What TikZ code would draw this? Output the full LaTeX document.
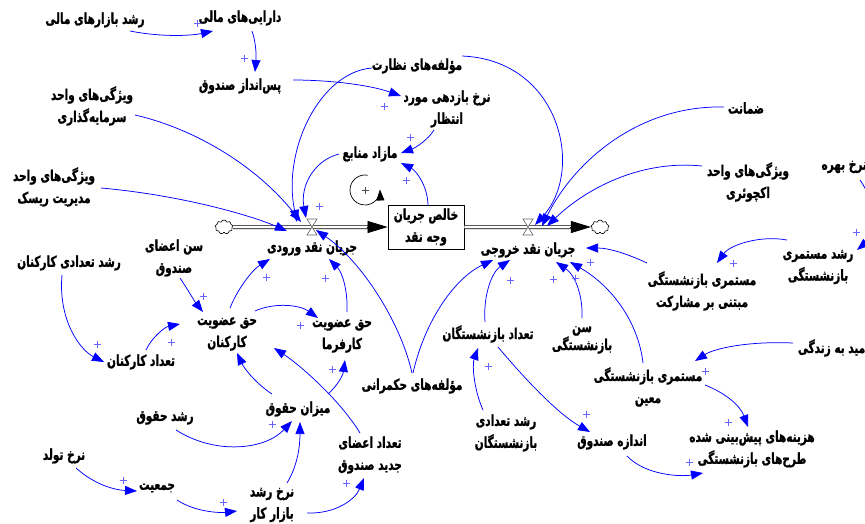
\documentclass[tikz,border=0pt]{standalone}
\usepackage{fontspec}
\usetikzlibrary{arrows.meta,shapes.symbols}
\newfontfamily\arabicfont[Script=Arabic, FakeStretch=0.7, FakeBold=1.2]{DejaVu Sans Bold}
\TeXXeTstate=1
\newcommand\fa[1]{\beginR #1\endR}
\begin{document}
\begin{tikzpicture}[x=1pt,y=-1pt,
  lbl/.style={font={\arabicfont\fontsize{15}{22}\selectfont}, align=center, inner sep=1pt},
  lk/.style={draw=blue, line width=0.75pt, -{Triangle[length=12pt,width=9pt]}, fill=none},
  pipe/.style={double=white, double distance=2.6pt, line width=0.7pt},
  tipk/.style={line width=0.7pt, -{Triangle[length=20pt,width=12pt]}},
  valve/.style={draw=black!60, fill=white, line width=0.6pt},
  pls/.pic={\draw[blue!60!white, line width=0.6pt] (-3.5,0)--(3.5,0) (0,-3.5)--(0,3.5);}
]
\useasboundingbox (0,0) rectangle (865,523);
\clip (0,0) rectangle (865,523);
\fill[white] (0,0) rectangle (865,523);

% ---------- nodes ----------
\node[lbl] (rbm) at (95,20) {\fa{رشد بازارهای مالی}};
\node[lbl] (dam) at (240,18) {\fa{دارایی^^^^200cهای مالی}};
\node[lbl] (pas) at (240,86) {\fa{پس^^^^200cانداز صندوق}};
\node[lbl] (vsg) at (92,106) {\fa{ویژگی^^^^200cهای واحد}\\\fa{سرمایه^^^^200cگذاری}};
\node[lbl] (nez) at (417,66) {\fa{مؤلفه^^^^200cهای نظارت}};
\node[lbl] (nbm) at (447,109) {\fa{نرخ بازدهی مورد}\\\fa{انتظار}};
\node[lbl] (maz) at (370,154) {\fa{مازاد منابع}};
\node[lbl, draw, line width=0.8pt, minimum width=76pt, minimum height=44pt] (box) at (426,227) {\fa{خالص جریان}\\\fa{وجه نقد}};
\node[lbl] (vrm) at (54,187) {\fa{ویژگی^^^^200cهای واحد}\\\fa{مدیریت ریسک}};
\node[lbl] (zem) at (746,108) {\fa{ضمانت}};
\node[lbl] (vak) at (748,182) {\fa{ویژگی^^^^200cهای واحد}\\\fa{اکچوئری}};
\node[lbl, anchor=east] (nbh) at (868,167) {\fa{نرخ بهره}};
\node[lbl] (rmb) at (818,267) {\fa{رشد مستمری}\\\fa{بازنشستگی}};
\node[lbl] (mmm) at (702,291) {\fa{مستمری بازنشستگی}\\\fa{مبتنی بر مشارکت}};
\node[lbl, anchor=east] (amz) at (870,348) {\fa{امید به زندگی}};
\node[lbl] (mmn) at (648,387) {\fa{مستمری بازنشستگی}\\\fa{معین}};
\node[lbl] (hzn) at (752,449) {\fa{هزینه^^^^200cهای پیش^^^^200cبینی شده}\\\fa{طرح^^^^200cهای بازنشستگی}};
\node[lbl] (ands) at (612,442) {\fa{اندازه صندوق}};
\node[lbl] (rtb) at (506,433) {\fa{رشد تعدادی}\\\fa{بازنشستگان}};
\node[lbl] (tbz) at (488,334) {\fa{تعداد بازنشستگان}};
\node[lbl, font={\arabicfont\fontsize{15}{18}\selectfont}] (snb) at (582,340) {\fa{سن}\\\fa{بازنشستگی}};
\node[lbl] (mhk) at (412,386) {\fa{مؤلفه^^^^200cهای حکمرانی}};
\node[lbl] (hak) at (227,334) {\fa{حق عضویت}\\\fa{کارکنان}};
\node[lbl] (haf) at (342,336) {\fa{حق عضویت}\\\fa{کارفرما}};
\node[lbl] (saz) at (174,258) {\fa{سن اعضای}\\\fa{صندوق}};
\node[lbl] (rtk) at (69,263) {\fa{رشد تعدادی کارکنان}};
\node[lbl] (tka) at (141,362) {\fa{تعداد کارکنان}};
\node[lbl] (mhq) at (298,409) {\fa{میزان حقوق}};
\node[lbl] (rhq) at (165,418) {\fa{رشد حقوق}};
\node[lbl] (nto) at (64,456) {\fa{نرخ تولد}};
\node[lbl] (jam) at (157,488) {\fa{جمعیت}};
\node[lbl] (nrb) at (272,505) {\fa{نرخ رشد}\\\fa{بازار کار}};
\node[lbl] (tjs) at (370,455) {\fa{تعداد اعضای}\\\fa{جدید صندوق}};
\node[lbl] (jnv) at (312,248) {\fa{جریان نقد ورودی}};
\node[lbl] (jnk) at (528,250) {\fa{جریان نقد خروجی}};

% ---------- stock and flows ----------
\node[cloud, draw, cloud puffs=9, minimum width=18pt, minimum height=14pt, inner sep=0pt, line width=0.6pt] (cin) at (224,227) {};
\node[cloud, draw, cloud puffs=9, minimum width=18pt, minimum height=14pt, inner sep=0pt, line width=0.6pt] (cout) at (600,227) {};
\coordinate (vin) at (312,227);
\coordinate (vout) at (528,227);
\draw[pipe, shorten >=19pt] (cin.east) -- (box.west);
\draw[tipk] ([xshift=-21pt]box.west) -- (box.west);
\draw[pipe, shorten >=19pt] (box.east) -- (cout.west);
\draw[tipk] ([xshift=-21pt]cout.west) -- (cout.west);
\draw[valve] ([shift={(-5,-8)}]vin) -- ([shift={(5,-8)}]vin) -- ([shift={(-5,8)}]vin) -- ([shift={(5,8)}]vin) -- cycle;
\draw[valve] ([shift={(-5,-8)}]vout) -- ([shift={(5,-8)}]vout) -- ([shift={(-5,8)}]vout) -- ([shift={(5,8)}]vout) -- cycle;

% loop symbol
\coordinate (loopc) at (365,190);
\draw[line width=0.7pt, -{Triangle[length=11pt,width=8pt]}] ([shift={(280:15)}]loopc) arc[start angle=280, end angle=-2, radius=15];
\draw[black!70, line width=0.6pt] ([xshift=-3.5pt]loopc) -- ([xshift=3.5pt]loopc) ([yshift=-3.5pt]loopc) -- ([yshift=3.5pt]loopc);

% ---------- links ----------
\draw[lk] ([shift={(35,11)}]rbm.center) .. controls (160,37) and (190,36) .. ([shift={(-27,13)}]dam.center);
\draw[lk] ([shift={(12,13)}]dam.center) .. controls (257,45) and (256,60) .. ([shift={(15,-14)}]pas.center);
\draw[lk] ([shift={(53,-6)}]pas.center) .. controls (330,80) and (370,85) .. ([shift={(-46,-13)}]nbm.center);
\draw[lk] ([shift={(-13,21)}]nbm.center) .. controls (428,140) and (415,148) .. ([shift={(31,-1)}]maz.center);
\draw[lk] ([shift={(2,-21)}]box.center) .. controls (428,185) and (415,170) .. ([shift={(31,9)}]maz.center);
\draw[lk] ([shift={(-31,0)}]maz.center) .. controls (315,160) and (300,185) .. ([shift={(-6,-9)}]vin);
\draw[lk] ([shift={(43,9)}]vsg.center) .. controls (200,130) and (260,170) .. ([shift={(-11,-5)}]vin);
\draw[lk] ([shift={(-45,2)}]nez.center) .. controls (320,72) and (282,150) .. ([shift={(-15,-5)}]vin);
\draw[lk] ([shift={(47,1)}]vrm.center) .. controls (180,195) and (250,215) .. ([shift={(-25,4)}]vin);
\draw[lk] ([shift={(0,-13)}]mhk.center) .. controls (400,320) and (360,260) .. ([shift={(4,3)}]vin);
\draw[lk] ([shift={(1,-13)}]mhk.center) .. controls (425,320) and (455,278) .. ([shift={(-35,10)}]jnk.center);
\draw[lk] ([shift={(-3,-12)}]tbz.center) .. controls (483,295) and (492,272) .. ([shift={(-18,10)}]jnk.center);
\draw[lk] ([shift={(0,-22)}]snb.center) .. controls (583,295) and (575,275) .. ([shift={(28,12)}]jnk.center);
\draw[lk] ([shift={(-5,-24)}]mmn.center) .. controls (638,320) and (610,285) .. ([shift={(42,12)}]jnk.center);
\draw[lk] ([shift={(-55,-28)}]mmm.center) .. controls (630,255) and (610,248) .. ([shift={(58,-2)}]jnk.center);
\draw[lk] ([shift={(-31,-27)}]rmb.center) .. controls (760,235) and (730,245) .. ([shift={(15,-28)}]mmm.center);
\draw[lk] ([shift={(-8,13)}]nbh.east) .. controls (875,200) and (875,235) .. ([shift={(39,-17)}]rmb.center);
\draw[lk] ([shift={(-77,-5)}]amz.east) .. controls (750,341) and (715,348) .. ([shift={(47,-26)}]mmn.center);
\draw[lk] ([shift={(57,-2)}]mmn.center) .. controls (725,393) and (740,405) .. ([shift={(-4,-22)}]hzn.center);
\draw[lk] ([shift={(15,14)}]ands.center) .. controls (645,475) and (680,477) .. ([shift={(-49,24)}]hzn.center);
\draw[lk] ([shift={(10,13)}]tbz.center) .. controls (530,385) and (560,415) .. ([shift={(-22,-10)}]ands.center);
\draw[lk] ([shift={(-23,-23)}]rtb.center) .. controls (474,390) and (472,365) .. ([shift={(-10,14)}]tbz.center);
\draw[lk] ([shift={(-22,-1)}]zem.center) .. controls (640,105) and (575,160) .. ([shift={(14,-1)}]vout);
\draw[lk] ([shift={(-46,-16)}]vak.center) .. controls (645,160) and (590,185) .. ([shift={(19,-1)}]vout);
\draw[lk] ([shift={(45,-10)}]nez.center) .. controls (560,60) and (585,170) .. ([shift={(7,-2)}]vout);
\draw[lk] ([shift={(3,-26)}]hak.center) .. controls (237,290) and (252,270) .. ([shift={(-42,11)}]jnv.center);
\draw[lk] ([shift={(5,-24)}]haf.center) .. controls (348,290) and (342,272) .. ([shift={(17,11)}]jnv.center);
\draw[lk] ([shift={(28,-23)}]hak.center) .. controls (275,302) and (300,305) .. ([shift={(-24,-18)}]haf.center);
\draw[lk] ([shift={(6,20)}]saz.center) .. controls (188,290) and (195,302) .. ([shift={(-24,-22)}]hak.center);
\draw[lk] ([shift={(5,-12)}]tka.center) .. controls (152,337) and (165,327) .. ([shift={(-47,-10)}]hak.center);
\draw[lk] ([shift={(-7,12)}]rtk.center) .. controls (58,320) and (80,350) .. ([shift={(-37,0)}]tka.center);
\draw[lk] ([shift={(-26,-15)}]mhq.center) .. controls (258,385) and (245,370) .. ([shift={(10,19)}]hak.center);
\draw[lk] ([shift={(30,-15)}]mhq.center) .. controls (338,385) and (343,375) .. ([shift={(3,24)}]haf.center);
\draw[lk] ([shift={(-10,-22)}]tjs.center) .. controls (340,400) and (300,365) .. ([shift={(47,14)}]hak.center);
\draw[lk] ([shift={(11,12)}]rhq.center) .. controls (215,455) and (265,450) .. ([shift={(-6,12)}]mhq.center);
\draw[lk] ([shift={(15,-22)}]nrb.center) .. controls (298,465) and (300,445) .. ([shift={(2,13)}]mhq.center);
\draw[lk] ([shift={(12,12)}]nto.center) .. controls (95,485) and (115,490) .. ([shift={(-20,3)}]jam.center);
\draw[lk] ([shift={(20,12)}]jam.center) .. controls (195,512) and (220,513) .. ([shift={(-35,6)}]nrb.center);
\draw[lk] ([shift={(35,8)}]nrb.center) .. controls (335,514) and (355,500) .. ([shift={(-6,23)}]tjs.center);

% ---------- polarity signs ----------
\foreach \p in {(197,23),(244,58),(384,106),(410,137),(406,180),(319,206),(266,277),(325,278),(300,325),(203,296),(171,342),(97,344),(272,424),(332,369),(346,483),(123,480),(223,502),(510,280),(553,279),(575,278),(590,262),(733,263),(856,232),(705,371),(728,422),(689,462),(586,414),(488,366)}
  \pic at \p {pls};
\end{tikzpicture}
\end{document}
